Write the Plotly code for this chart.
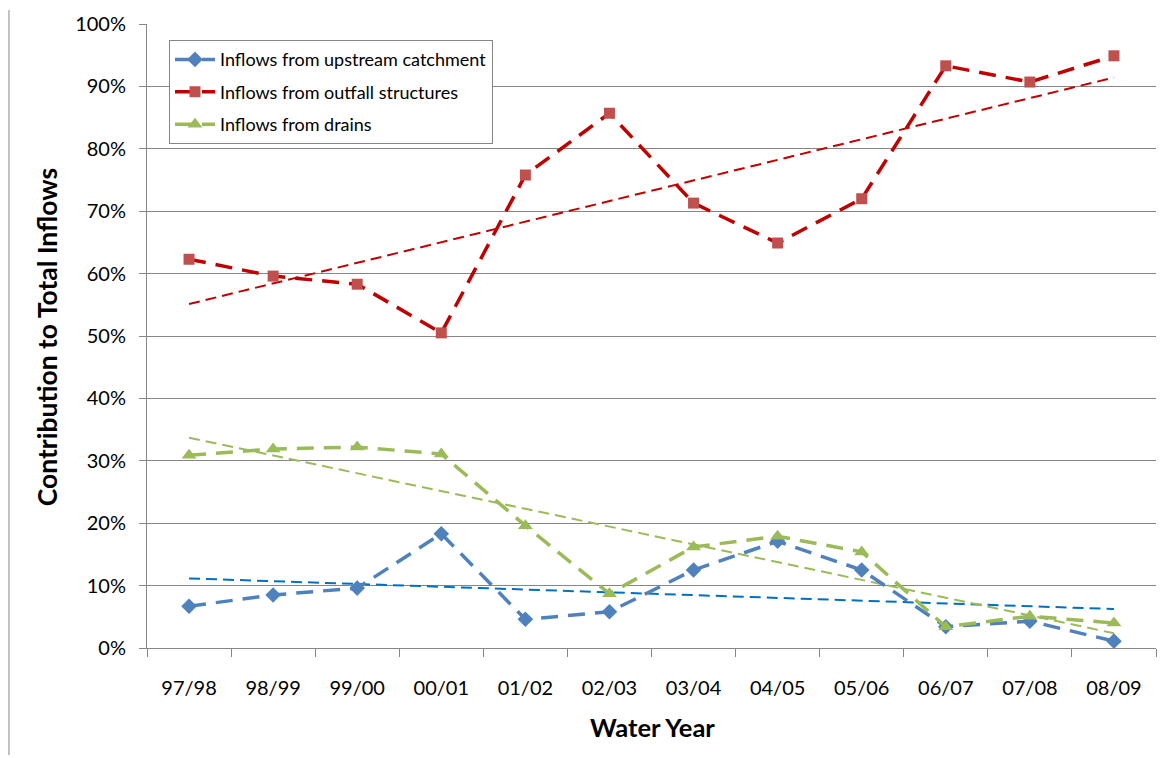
import numpy as np
import plotly.graph_objects as go

years = ["97/98", "98/99", "99/00", "00/01", "01/02", "02/03", "03/04", "04/05", "05/06", "06/07", "07/08", "08/09"]
upstream = [6.7, 8.5, 9.6, 18.3, 4.6, 5.8, 12.5, 17.1, 12.5, 3.4, 4.3, 1.1]
outfall = [62.3, 59.6, 58.3, 50.5, 75.8, 85.7, 71.3, 64.9, 72.0, 93.3, 90.7, 94.9]
drains = [30.9, 31.9, 32.2, 31.1, 19.6, 8.7, 16.2, 17.9, 15.4, 3.4, 5.1, 4.0]
y_ticks = [0, 10, 20, 30, 40, 50, 60, 70, 80, 90, 100]

FONT = "Lato"
series = [
    ("Inflows from upstream catchment", upstream, "#4F81BD", "#4F81BD", "diamond", 12, "#0070C0"),
    ("Inflows from outfall structures", outfall, "#C00000", "#C0504D", "square", 11, "#C00000"),
    ("Inflows from drains", drains, "#9BBB59", "#9BBB59", "triangle-up", 13, "#9BBB59"),
]

fig = go.Figure()
xi = np.arange(len(years))
# trendlines (linear fits of the data)
for name, vals, lc, mc, sym, ms, tc in series:
    k, b = np.polyfit(xi, np.array(vals) / 100.0, 1)
    fig.add_trace(go.Scatter(
        x=years, y=k * xi + b, mode="lines", showlegend=False, hoverinfo="skip",
        line=dict(color=tc, width=2, dash="11px,6px"),
    ))
for i, (name, vals, lc, mc, sym, ms, tc) in enumerate(series):
    fig.add_trace(go.Scatter(
        x=years, y=[v / 100.0 for v in vals], name=name, mode="lines+markers",
        legendgroup=f"g{i}",
        line=dict(color=lc, width=3.5, dash="17px,10px"),
        marker=dict(symbol=sym, size=ms, color=mc),
    ))

# page body has an 8px margin, so the figure is sized/offset to compensate
fig.update_layout(
    width=1158, height=750,
    margin=dict(l=139, r=10, t=16, b=110),
    paper_bgcolor="white", plot_bgcolor="white",
    font=dict(family=FONT, size=20, color="black"),
    legend=dict(
        x=0.0218, y=0.974, xanchor="left", yanchor="top",
        bgcolor="white", bordercolor="#868686", borderwidth=1,
        font=dict(family=FONT, size=18, color="black"),
        itemwidth=40, tracegroupgap=6,
    ),
    xaxis=dict(
        type="category", categoryorder="array", categoryarray=years,
        showline=True, linecolor="#868686", linewidth=1,
        ticks="outside", ticklen=8, tickcolor="#868686", tickson="boundaries",
        showgrid=False, mirror=False, range=[-0.5, 11.5], automargin=False,
        tickfont=dict(family=FONT, size=20), ticklabelstandoff=22,
    ),
    yaxis=dict(
        range=[0, 1], tickvals=[t / 100 for t in y_ticks], tickformat=".0%",
        showline=True, linecolor="#868686", linewidth=1,
        ticks="outside", ticklen=7, tickcolor="#868686",
        showgrid=True, gridcolor="#868686", gridwidth=1, automargin=False,
        tickfont=dict(family=FONT, size=20), ticklabelstandoff=9,
        zeroline=False,
    ),
    annotations=[
        dict(text="<b>Water Year</b>", xref="paper", yref="paper", x=0.5005, y=-0.1266,
             xanchor="center", yanchor="middle", showarrow=False,
             font=dict(family=FONT, size=25.5, color="black")),
        dict(text="<b>Contribution to Total Inflows</b>", xref="paper", yref="paper", x=-0.0991, y=0.498,
             xanchor="center", yanchor="middle", showarrow=False, textangle=-90,
             font=dict(family=FONT, size=26.5, color="black")),
    ],
    shapes=[dict(type="line", xref="paper", yref="paper", x0=-0.1368, x1=-0.1368, y0=1.0224, y1=-0.1715,
                 line=dict(color="#868686", width=1))],
)

fig.write_html("out.html")
